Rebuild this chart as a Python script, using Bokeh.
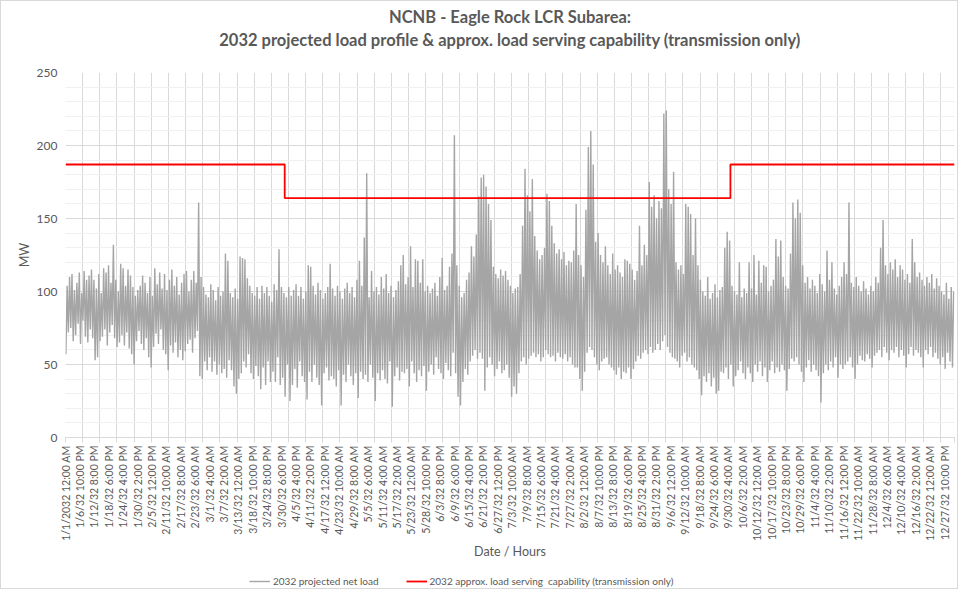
import math
import numpy as np
from bokeh.plotting import figure
from bokeh.layouts import column
from bokeh.models import (Range1d, FixedTicker, SingleIntervalTicker, Title, Legend, LegendItem)
from bokeh.embed import file_html
from bokeh.resources import INLINE

# ---------------- data ----------------
TITLE_1 = "NCNB - Eagle Rock LCR Subarea:"
TITLE_2 = "2032 projected load profile & approx. load serving capability (transmission only)"
X_TITLE = "Date / Hours"
Y_TITLE = "MW"
SERIES_LOAD = "2032 projected net load"
SERIES_CAP = "2032 approx. load serving  capability (transmission only)"

HOURS_IN_YEAR = 8760
LABEL_EVERY_HOURS = 142
GRID_EVERY_HOURS = 169

x_tick_labels = [
    "1/1/2032 12:00 AM", "1/6/32 10:00 PM", "1/12/32 8:00 PM", "1/18/32 6:00 PM", "1/24/32 4:00 PM",
    "1/30/32 2:00 PM", "2/5/32 12:00 PM", "2/11/32 10:00 AM", "2/17/32 8:00 AM", "2/23/32 6:00 AM",
    "3/1/32 4:00 AM", "3/7/32 2:00 AM", "3/13/32 12:00 AM", "3/18/32 10:00 PM", "3/24/32 8:00 PM",
    "3/30/32 6:00 PM", "4/5/32 4:00 PM", "4/11/32 2:00 PM", "4/17/32 12:00 PM", "4/23/32 10:00 AM",
    "4/29/32 8:00 AM", "5/5/32 6:00 AM", "5/11/32 4:00 AM", "5/17/32 2:00 AM", "5/23/32 12:00 AM",
    "5/28/32 10:00 PM", "6/3/32 8:00 PM", "6/9/32 6:00 PM", "6/15/32 4:00 PM", "6/21/32 2:00 PM",
    "6/27/32 12:00 PM", "7/3/32 10:00 AM", "7/9/32 8:00 AM", "7/15/32 6:00 AM", "7/21/32 4:00 AM",
    "7/27/32 2:00 AM", "8/2/32 12:00 AM", "8/7/32 10:00 PM", "8/13/32 8:00 PM", "8/19/32 6:00 PM",
    "8/25/32 4:00 PM", "8/31/32 2:00 PM", "9/6/32 12:00 PM", "9/12/32 10:00 AM", "9/18/32 8:00 AM",
    "9/24/32 6:00 AM", "9/30/32 4:00 AM", "10/6/32 2:00 AM", "10/12/32 12:00 AM", "10/17/32 10:00 PM",
    "10/23/32 8:00 PM", "10/29/32 6:00 PM", "11/4/32 4:00 PM", "11/10/32 2:00 PM", "11/16/32 12:00 PM",
    "11/22/32 10:00 AM", "11/28/32 8:00 AM", "12/4/32 6:00 AM", "12/10/32 4:00 AM", "12/16/32 2:00 AM",
    "12/22/32 12:00 AM", "12/27/32 10:00 PM",
]

# daily peak (afternoon) and daily trough (night) of the projected net load, MW
load_daily_max = [
    104, 110, 112, 101, 106, 113, 99, 114, 108, 111,
    115, 108, 102, 112, 99, 116, 113, 118, 106, 132,
    108, 100, 119, 116, 104, 115, 111, 103, 97, 101,
    104, 111, 106, 99, 110, 97, 116, 105, 113, 102,
    112, 101, 108, 115, 104, 110, 98, 106, 112, 114,
    100, 108, 114, 106, 161, 110, 103, 98, 96, 105,
    101, 94, 103, 97, 100, 126, 121, 99, 96, 102,
    95, 124, 123, 122, 109, 104, 99, 97, 103, 95,
    104, 99, 103, 97, 93, 105, 101, 129, 103, 99,
    96, 103, 97, 101, 105, 97, 103, 95, 100, 118,
    117, 104, 98, 106, 101, 95, 99, 103, 119, 102,
    97, 104, 100, 95, 102, 106, 99, 103, 96, 108,
    121, 104, 137, 181, 96, 114, 100, 103, 98, 110,
    102, 112, 99, 104, 96, 101, 107, 118, 125, 105,
    110, 131, 103, 122, 121, 106, 122, 100, 104, 99,
    102, 106, 97, 110, 123, 101, 104, 117, 126, 207,
    118, 104, 96, 99, 108, 113, 131, 124, 139, 165,
    178, 180, 172, 160, 149, 117, 112, 109, 115, 111,
    114, 108, 104, 99, 102, 103, 112, 145, 184, 166,
    155, 177, 138, 128, 122, 125, 130, 167, 162, 145,
    133, 126, 129, 122, 127, 118, 121, 120, 128, 160,
    125, 118, 110, 156, 199, 210, 187, 134, 140, 125,
    120, 131, 118, 112, 126, 115, 118, 113, 110, 122,
    121, 119, 115, 108, 114, 145, 118, 132, 125, 175,
    158, 166, 150, 162, 157, 222, 224, 170, 160, 182,
    120, 115, 118, 112, 160, 158, 153, 125, 150, 118,
    108, 100, 97, 110, 95, 99, 105, 96, 101, 103,
    130, 141, 135, 104, 100, 98, 120, 96, 102, 99,
    120, 102, 125, 98, 121, 106, 118, 117, 100, 104,
    108, 136, 124, 135, 110, 104, 102, 126, 161, 150,
    163, 154, 118, 106, 110, 102, 108, 104, 99, 112,
    105, 100, 128, 108, 120, 102, 98, 104, 110, 120,
    112, 161, 106, 103, 110, 104, 100, 107, 102, 98,
    104, 100, 110, 106, 130, 149, 118, 112, 120, 115,
    122, 110, 118, 115, 108, 112, 106, 136, 120, 110,
    113, 108, 104, 110, 106, 112, 102, 109, 104, 100,
    98, 106, 95, 103, 100,
]
load_daily_min = [
    57, 72, 75, 66, 70, 78, 64, 80, 69, 65,
    74, 68, 53, 55, 66, 69, 74, 63, 72, 77,
    68, 62, 65, 70, 63, 72, 61, 57, 50, 66,
    73, 64, 60, 68, 55, 48, 62, 71, 64, 74,
    60, 57, 46, 63, 58, 65, 55, 60, 53, 59,
    64, 67, 58, 68, 73, 42, 40, 52, 46, 55,
    45, 52, 43, 50, 44, 47, 41, 53, 46, 35,
    30, 40, 44, 52, 48, 57, 44, 40, 49, 42,
    33, 48, 36, 52, 38, 45, 38, 55, 36, 41,
    28, 50, 25, 36, 47, 34, 52, 42, 38, 26,
    45, 38, 50, 41, 36, 22, 44, 48, 39, 42,
    40, 35, 46, 22, 43, 38, 50, 42, 36, 44,
    27, 45, 40, 43, 38, 50, 41, 25, 44, 39,
    46, 40, 37, 52, 21, 42, 48, 39, 45, 44,
    47, 35, 52, 44, 38, 46, 42, 49, 32, 45,
    50, 43, 55, 47, 44, 40, 51, 46, 42, 58,
    44, 28, 22, 38, 47, 43, 52, 56, 60, 54,
    58, 54, 32, 48, 55, 50, 42, 47, 52, 44,
    46, 50, 41, 28, 35, 30, 44, 52, 55, 50,
    54, 56, 58, 55, 57, 52, 55, 60, 57, 55,
    56, 52, 58, 55, 54, 57, 52, 55, 50, 48,
    48, 40, 32, 45, 58, 62, 60, 55, 50, 46,
    52, 54, 55, 50, 48, 46, 43, 48, 40, 45,
    44, 48, 40, 47, 52, 56, 54, 58, 60, 57,
    62, 58, 60, 64, 60, 66, 70, 62, 58, 55,
    54, 52, 48, 56, 58, 52, 55, 50, 48, 46,
    40, 29, 42, 38, 44, 35, 41, 30, 32, 45,
    44, 48, 40, 50, 35, 42, 46, 52, 44, 40,
    48, 44, 38, 50, 45, 52, 42, 48, 38, 46,
    52, 44, 48, 45, 50, 46, 32, 47, 54, 52,
    55, 50, 45, 38, 48, 53, 45, 50, 46, 42,
    24, 44, 50, 46, 52, 48, 55, 41, 50, 47,
    50, 52, 55, 48, 40, 50, 56, 53, 52, 57,
    54, 48, 56, 58, 60, 55, 62, 58, 53, 60,
    58, 62, 55, 60, 56, 48, 57, 62, 56, 60,
    58, 55, 48, 60, 57, 62, 55, 58, 54, 50,
    55, 47, 58, 52, 48,
]
TROUGH_HOUR = 4
PEAK_HOUR = 16

# load serving capability: change points (hour of year) and level between them (MW)
cap_change_hours = [0, 2160, 6552, 8760]
cap_levels = [187, 164, 187]

# ---------------- build series ----------------
n_days = len(load_daily_max)
xs, ys = [], []
for d in range(n_days):
    xs += [d * 24 + TROUGH_HOUR, d * 24 + PEAK_HOUR]
    ys += [load_daily_min[d], load_daily_max[d]]

cap_x, cap_y = [], []
for i, lvl in enumerate(cap_levels):
    cap_x += [cap_change_hours[i], cap_change_hours[i + 1]]
    cap_y += [lvl, lvl]

label_ticks = [LABEL_EVERY_HOURS * i for i in range(len(x_tick_labels))]
grid_ticks = list(range(0, HOURS_IN_YEAR, GRID_EVERY_HOURS)) + [HOURS_IN_YEAR]

FONT = "Lato"
TXT = "#595959"
GRAY = "#a5a5a5"
RED = "#ff0000"

p = figure(width=956, height=561, output_backend="svg", toolbar_location=None,
           x_range=Range1d(0, HOURS_IN_YEAR), y_range=Range1d(0, 250),
           min_border_left=64, min_border_right=3, min_border_top=71, min_border_bottom=125,
           title=None)
p.background_fill_color = "white"
p.border_fill_color = "white"
p.outline_line_color = None

p.line(xs, ys, line_color=GRAY, line_width=1.4)
p.line(cap_x, cap_y, line_color=RED, line_width=1.8)

# x axis
xa = p.xaxis[0]
xa.ticker = FixedTicker(ticks=label_ticks, minor_ticks=grid_ticks)
xa.major_label_overrides = {t: lab for t, lab in zip(label_ticks, x_tick_labels)}
xa.major_label_orientation = math.pi / 2
xa.major_tick_line_color = None
xa.major_tick_out = 0
xa.major_tick_in = 0
xa.minor_tick_line_color = "#d9d9d9"
xa.minor_tick_out = 5
xa.minor_tick_in = 0
xa.axis_line_color = "#d9d9d9"
xa.major_label_standoff = 3
xa.major_label_text_font = FONT
xa.major_label_text_font_size = "10.5px"
xa.major_label_text_color = TXT
xa.axis_label = X_TITLE
xa.axis_label_text_font = FONT
xa.axis_label_text_font_size = "12.5px"
xa.axis_label_text_font_style = "normal"
xa.axis_label_text_color = TXT
xa.axis_label_standoff = 0

# y axis
ya = p.yaxis[0]
ya.ticker = SingleIntervalTicker(interval=50, num_minor_ticks=5)
ya.axis_line_color = None
ya.major_tick_line_color = None
ya.minor_tick_line_color = None
ya.major_tick_out = 0
ya.major_label_standoff = 4
ya.major_label_text_font = FONT
ya.major_label_text_font_size = "12px"
ya.major_label_text_color = TXT
ya.axis_label = Y_TITLE
ya.axis_label_text_font = FONT
ya.axis_label_text_font_size = "12.5px"
ya.axis_label_text_font_style = "normal"
ya.axis_label_text_color = TXT
ya.axis_label_standoff = 2

# grids
p.xgrid.ticker = FixedTicker(ticks=grid_ticks)
p.xgrid.grid_line_color = "#d9d9d9"
p.ygrid.grid_line_color = "#d9d9d9"
p.ygrid.minor_grid_line_color = "#f0f0f0"

# titles (first added sits nearest to the plot); a tiny spacer keeps them off the frame
p.add_layout(Title(text=" ", text_font_size="1px", standoff=19), "above")
p.add_layout(Title(text=TITLE_2, align="center", text_font=FONT, text_font_size="16.5px",
                   text_font_style="bold", text_color=TXT, standoff=2), "above")
p.add_layout(Title(text=TITLE_1, align="center", text_font=FONT, text_font_size="16.5px",
                   text_font_style="bold", text_color=TXT, standoff=0), "above")

# legend strip under the chart (its frame lines up with the chart frame)
q = figure(width=956, height=26, output_backend="svg", toolbar_location=None,
           x_range=Range1d(0, 1), y_range=Range1d(0, 1),
           x_axis_location=None, y_axis_location=None, min_border=0, title=None)
q.grid.visible = False
q.outline_line_color = None
q.background_fill_color = "white"
q.border_fill_color = "white"
lg_load = q.line([-2, -1], [-2, -1], line_color=GRAY, line_width=1.4)
lg_cap = q.line([-2, -1], [-2, -1], line_color=RED, line_width=1.8)
legend = Legend(items=[LegendItem(label=SERIES_LOAD, renderers=[lg_load]),
                       LegendItem(label=SERIES_CAP, renderers=[lg_cap])],
                orientation="horizontal", location=(184, 1),
                label_text_font=FONT, label_text_font_size="10px", label_text_color=TXT,
                glyph_width=21, glyph_height=12, label_height=12, label_standoff=3,
                spacing=27, padding=0, margin=0,
                background_fill_alpha=0, border_line_color=None)
q.add_layout(legend, "center")

layout = column(p, q, spacing=0, styles={"border": "1px solid #d9d9d9"})

open("out.html", "w").write(file_html(layout, INLINE))
